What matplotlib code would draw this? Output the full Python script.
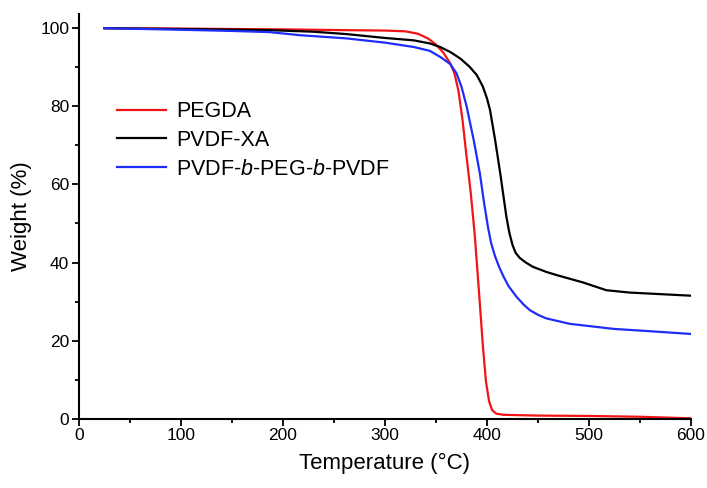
import matplotlib
matplotlib.use("Agg")
import matplotlib.pyplot as plt
from matplotlib.ticker import MultipleLocator

plt.rcParams['font.family'] = ['Liberation Sans', 'DejaVu Sans']
plt.rcParams['mathtext.fontset'] = 'custom'
plt.rcParams['mathtext.rm'] = 'Liberation Sans'
plt.rcParams['mathtext.it'] = 'Liberation Sans:italic'

# PEGDA
t_pegda = [25, 100, 200, 262, 300, 320, 332, 342, 350, 357, 364, 368, 372, 376,
           380, 384, 388, 392, 396, 399, 402, 405, 409, 416, 450, 500, 550, 575, 600]
w_pegda = [100, 99.9, 99.7, 99.5, 99.4, 99.2, 98.6, 97.4, 95.8, 93.8, 91.0, 88.5,
           84.0, 76.5, 67.0, 58.0, 47.0, 33.0, 18.5, 9.5, 4.5, 2.2, 1.3, 1.0,
           0.8, 0.7, 0.5, 0.3, 0.1]

# PVDF-XA
t_xa = [25, 100, 187, 230, 262, 300, 328, 344, 354, 364, 374, 383, 390, 396, 400,
        403, 408, 413, 419, 422, 425, 428, 432, 438, 445, 458, 468, 494, 517, 540, 600]
w_xa = [100, 99.8, 99.5, 99.1, 98.5, 97.5, 96.9, 96.1, 95.2, 93.9, 92.2, 90.1,
        88.0, 85.0, 82.0, 79.0, 71.3, 62.8, 51.7, 47.5, 44.5, 42.5, 41.2, 40.0,
        38.9, 37.6, 36.8, 34.9, 32.9, 32.3, 31.5]

# PVDF-b-PEG-b-PVDF
t_blk = [25, 100, 150, 187, 217, 262, 300, 328, 344, 355, 364, 370, 375, 380, 387,
         393, 397, 401, 404, 408, 412, 416, 421, 429, 436, 442, 450, 458, 481, 524,
         560, 600]
w_blk = [100, 99.6, 99.3, 99.0, 98.2, 97.4, 96.3, 95.2, 94.2, 92.5, 90.8, 88.5,
         85.0, 80.0, 71.3, 62.8, 55.5, 49.0, 45.0, 41.5, 38.8, 36.5, 34.0, 31.2,
         29.2, 27.8, 26.6, 25.7, 24.3, 23.0, 22.4, 21.7]

labels = ['PEGDA', 'PVDF-XA', r'PVDF-$\it{b}$-PEG-$\it{b}$-PVDF']
colors = ['#f01414', '#000000', '#1f2dfa']

fig = plt.figure(figsize=(7.07, 4.88), dpi=100)
ax = fig.add_axes([0.1117, 0.142, 0.8657, 0.829])

ax.plot(t_pegda, w_pegda, color=colors[0], lw=1.6, label=labels[0])
ax.plot(t_xa, w_xa, color=colors[1], lw=1.6, label=labels[1])
ax.plot(t_blk, w_blk, color=colors[2], lw=1.6, label=labels[2])

ax.set_xlim(0, 600)
ax.set_ylim(0, 103.6)
ax.xaxis.set_major_locator(MultipleLocator(100))
ax.xaxis.set_minor_locator(MultipleLocator(50))
ax.yaxis.set_major_locator(MultipleLocator(20))
ax.yaxis.set_minor_locator(MultipleLocator(10))
for s in ['top', 'right']:
    ax.spines[s].set_visible(False)
for s in ['left', 'bottom']:
    ax.spines[s].set_linewidth(1.5)
ax.tick_params(which='major', direction='out', length=5, width=1.3, labelsize=12.5, pad=2)
ax.tick_params(which='minor', direction='out', length=3, width=1.3)

ax.set_xlabel('Temperature (°C)', fontsize=16, labelpad=7)
ax.set_ylabel('Weight (%)', fontsize=16, labelpad=6)

ax.legend(loc='upper left', bbox_to_anchor=(0.062, 0.785), frameon=False,
          fontsize=15.5, handlelength=2.3, handletextpad=0.45, labelspacing=0.36,
          borderpad=0, borderaxespad=0)

fig.savefig('out.png', dpi=100)
